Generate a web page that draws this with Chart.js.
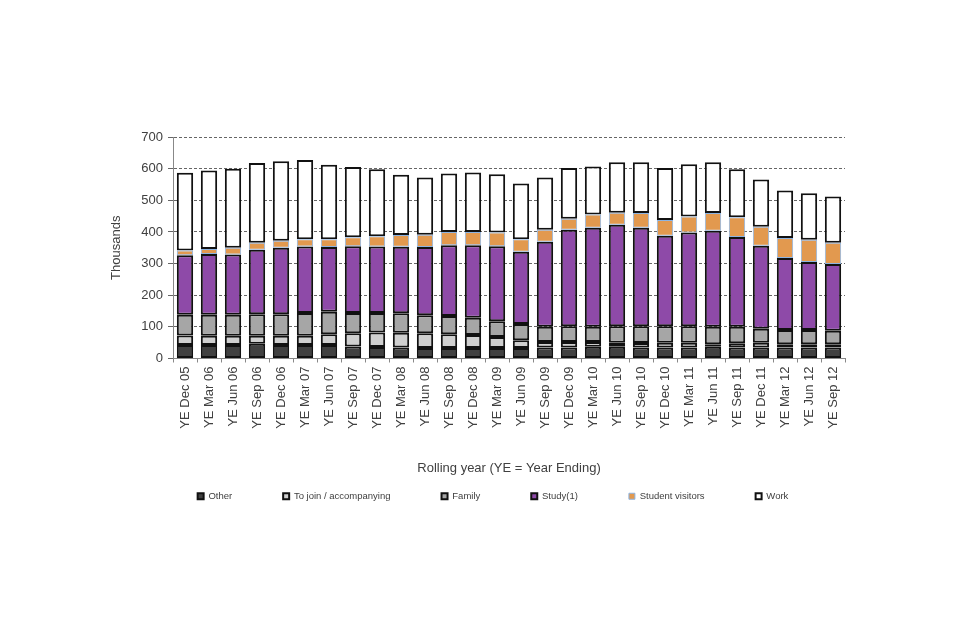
<html>
  <head>
    <style>
      body { margin: 0; background: #ffffff; }
    </style>
  </head>
  <body>
    <div style="width:960px;height:640px">
      <canvas id="myChart" width="960" height="640"></canvas>
    </div>

    <script src="https://cdn.jsdelivr.net/npm/chart.js"></script>

    <script>
      // rolling years
      var categories = [
        "YE Dec 05", "YE Mar 06", "YE Jun 06", "YE Sep 06", "YE Dec 06", "YE Mar 07", "YE Jun 07",
        "YE Sep 07", "YE Dec 07", "YE Mar 08", "YE Jun 08", "YE Sep 08", "YE Dec 08", "YE Mar 09",
        "YE Jun 09", "YE Sep 09", "YE Dec 09", "YE Mar 10", "YE Jun 10", "YE Sep 10", "YE Dec 10",
        "YE Mar 11", "YE Jun 11", "YE Sep 11", "YE Dec 11", "YE Mar 12", "YE Jun 12", "YE Sep 12"
      ];

      // thousands
      var other = [43, 43, 43, 47, 43, 43, 43, 38, 36, 35, 33, 33, 33, 33, 33, 35, 35, 37, 37, 35, 35, 35, 37, 35, 35, 35, 35, 35];
      var toJoin = [30, 29, 29, 25, 29, 29, 34, 42, 46, 46, 47, 44, 41, 35, 25, 17, 17, 15, 13, 14, 15, 15, 8, 13, 15, 10, 10, 10];
      var family = [65, 66, 66, 68, 68, 72, 71, 64, 62, 62, 57, 57, 55, 50, 51, 48, 50, 48, 52, 53, 52, 52, 55, 52, 44, 45, 45, 43];
      var study = [188, 192, 191, 204, 210, 210, 204, 211, 210, 210, 215, 224, 229, 237, 228, 269, 305, 313, 321, 311, 286, 296, 304, 284, 262, 228, 215, 211];
      var studentVisitors = [15, 16, 21, 22, 22, 23, 25, 28, 32, 37, 39, 42, 42, 43, 40, 38, 35, 42, 38, 47, 50, 51, 56, 62, 60, 63, 70, 67];
      var work = [246, 248, 250, 252, 251, 250, 235, 222, 212, 191, 181, 185, 188, 184, 176, 165, 160, 152, 159, 160, 164, 165, 160, 152, 150, 150, 147, 146];

      var yTicks = [0, 100, 200, 300, 400, 500, 600, 700];

      var textColor = "#404040";
      var fontFamily = "'Liberation Sans', Arial, sans-serif";

      function series(label, data, fill, border, width) {
        return {
          label,
          data,
          backgroundColor: fill,
          borderColor: border,
          borderWidth: width,
          borderSkipped: false,
        };
      }

      var datasets = [
        series("Other", other, "#404040", "#111111", 2),
        series("To join / accompanying", toJoin, "#cfcfcf", "#111111", 2),
        series("Family", family, "#a6a6a6", "#111111", 2),
        series("Study(1)", study, "#8e4aa8", "#111111", 2),
        series("Student visitors", studentVisitors, "#e2994f", "#8db4e2", 1),
        series("Work", work, "#ffffff", "#111111", 2),
      ];

      var config = {
        type: "bar",
        data: { labels: categories, datasets },
        options: {
          responsive: false,
          animation: false,
          datasets: { bar: { barPercentage: 0.68, categoryPercentage: 1 } },
          layout: { padding: { left: 141, right: 115, top: 137, bottom: 129 } },
          plugins: {
            tooltip: { enabled: false },
            legend: {
              position: "bottom",
              labels: {
                boxWidth: 6,
                boxHeight: 6,
                padding: 51,
                color: textColor,
                font: { family: fontFamily, size: 9.5 },
              },
            },
          },
          scales: {
            x: {
              stacked: true,
              afterFit: (scale) => { scale.height = 82; },
              border: { color: "#888888", width: 1 },
              grid: { offset: true, drawOnChartArea: false, tickLength: 4, color: "#888888" },
              ticks: {
                autoSkip: false,
                minRotation: 90,
                maxRotation: 90,
                padding: 4,
                color: textColor,
                font: { family: fontFamily, size: 13 },
              },
              title: {
                display: true,
                text: "Rolling year (YE = Year Ending)",
                color: textColor,
                font: { family: fontFamily, size: 13 },
                padding: { top: 0, bottom: -36 },
              },
            },
            y: {
              stacked: true,
              min: 0,
              max: 700,
              afterFit: (scale) => { scale.width = 32; },
              afterBuildTicks: (scale) => { scale.ticks = yTicks.map((v) => ({ value: v })); },
              border: { color: "#888888", width: 1, dash: [3, 2] },
              grid: { color: "#666666", tickLength: 5, tickBorderDash: [] },
              ticks: {
                padding: 5,
                color: textColor,
                font: { family: fontFamily, size: 13 },
              },
              title: {
                display: true,
                text: "Thousands",
                color: textColor,
                font: { family: fontFamily, size: 13 },
                padding: { top: -32, bottom: 0 },
              },
            },
          },
        },
      };

      const myChart = new Chart(document.getElementById("myChart"), config);
    </script>
  </body>
</html>
